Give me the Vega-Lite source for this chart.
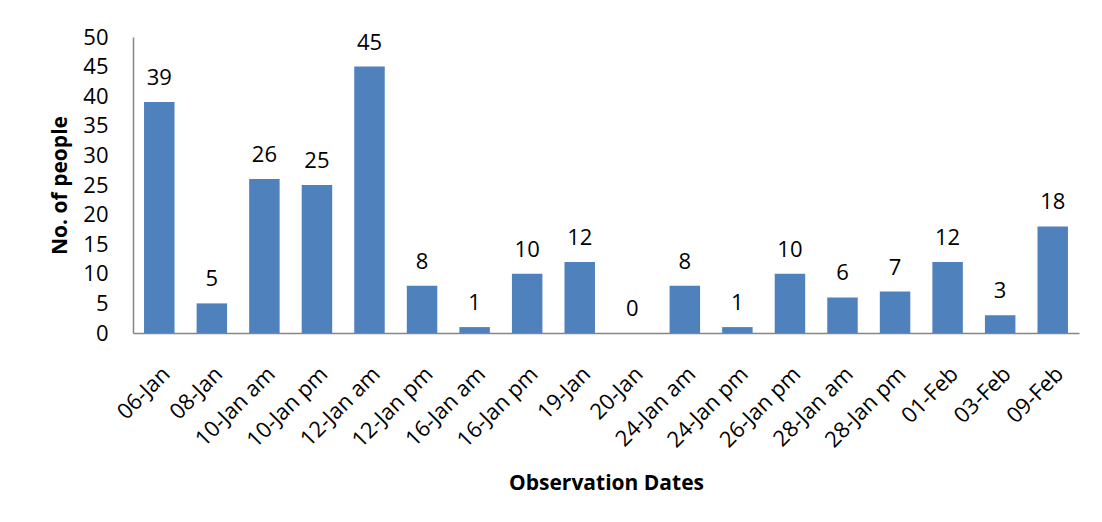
{
  "$schema": "https://vega.github.io/schema/vega-lite/v6.json",
  "autosize": {"type": "none"},
  "width": 946,
  "height": 296,
  "padding": {"left": 133, "top": 37, "right": 23, "bottom": 189},
  "background": "white",
  "config": {
    "view": {"stroke": null},
    "font": "Open Sans",
    "axis": {"labelFont": "Open Sans", "titleFont": "Open Sans", "labelColor": "black", "titleColor": "black", "domainColor": "#868686", "domainWidth": 1.5, "grid": false, "ticks": false, "labelOverlap": false, "labelBound": false},
    "axisY": {"labelOverlap": false, "labelSeparation": 0},
    "axisQuantitative": {"labelOverlap": false}
  },
  "data": {
    "values": [
      {"date": "06-Jan", "people": 39},
      {"date": "08-Jan", "people": 5},
      {"date": "10-Jan am", "people": 26},
      {"date": "10-Jan pm", "people": 25},
      {"date": "12-Jan am", "people": 45},
      {"date": "12-Jan pm", "people": 8},
      {"date": "16-Jan am", "people": 1},
      {"date": "16-Jan pm", "people": 10},
      {"date": "19-Jan", "people": 12},
      {"date": "20-Jan", "people": 0},
      {"date": "24-Jan am", "people": 8},
      {"date": "24-Jan pm", "people": 1},
      {"date": "26-Jan pm", "people": 10},
      {"date": "28-Jan am", "people": 6},
      {"date": "28-Jan pm", "people": 7},
      {"date": "01-Feb", "people": 12},
      {"date": "03-Feb", "people": 3},
      {"date": "09-Feb", "people": 18}
    ]
  },
  "encoding": {
    "x": {
      "field": "date", "type": "nominal", "sort": null,
      "scale": {"paddingInner": 0.42, "paddingOuter": 0.21},
      "axis": {"title": "Observation Dates", "labelAngle": -45, "labelFontSize": 22, "labelPadding": 30, "labelOverlap": false, "titleFontSize": 21, "titleFontWeight": "bold", "titlePadding": 22}
    },
    "y": {
      "field": "people", "type": "quantitative",
      "scale": {"domain": [0, 50]},
      "axis": {"title": "No. of people", "values": [0, 5, 10, 15, 20, 25, 30, 35, 40, 45, 50], "labelOverlap": false, "labelFontSize": 22, "labelPadding": 25, "titleFontSize": 21, "titleFontWeight": "bold", "titlePadding": 12}
    }
  },
  "layer": [
    {
      "mark": {"type": "bar", "color": "#4F81BD"}
    },
    {
      "mark": {"type": "text", "baseline": "bottom", "dy": -12, "fontSize": 22, "color": "black"},
      "encoding": {
        "text": {"field": "people", "type": "quantitative"}
      }
    }
  ]
}
